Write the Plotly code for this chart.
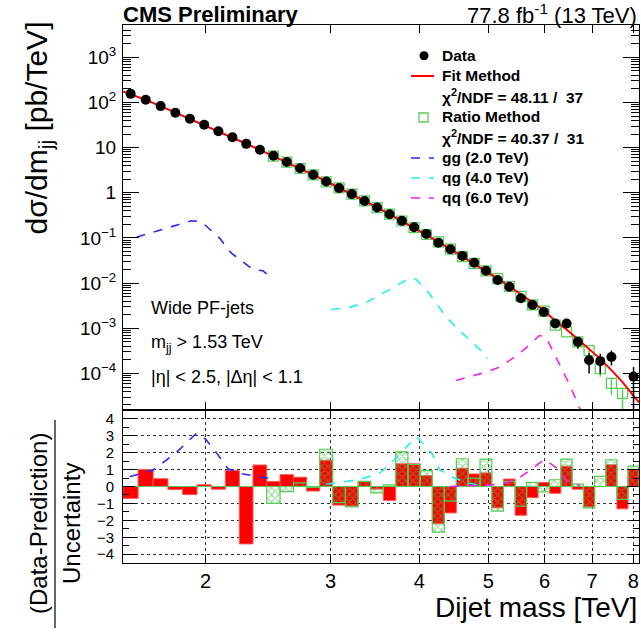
import math
import plotly.graph_objects as go

# ---------------- data ----------------
mass_edges = [1.530, 1.607, 1.687, 1.770, 1.856, 1.945, 2.037, 2.132, 2.231, 2.332,
              2.438, 2.546, 2.659, 2.775, 2.895, 3.019, 3.147, 3.279, 3.416, 3.558,
              3.704, 3.854, 4.010, 4.171, 4.337, 4.509, 4.686, 4.869, 5.058, 5.253,
              5.455, 5.663, 5.877, 6.099, 6.328, 6.564, 6.808, 7.060, 7.320, 7.589,
              7.866, 8.152]

data_xsec = [155, 115, 83, 59, 43.4, 32, 23, 17, 12.1, 9.0,
             6.6, 4.8, 3.5, 2.5, 1.78, 1.27, 0.935, 0.66, 0.47, 0.336,
             0.239, 0.173, 0.123, 0.0787, 0.056, 0.040, 0.0283, 0.0188, 0.0117, 0.0083,
             0.0046, 0.0033, 0.0023, 0.00127, 0.00127, 0.0005, 0.000195, 0.000187, 0.00023, None,
             8.5e-5]
data_err_up = [0] * 33 + [0.0001, 0.0001, 0.00014, 0.000085, 0.000087, 0.00009, 0, 0.000053]
data_err_dn = [0] * 33 + [0.0001, 0.0001, 0.00015, 0.000095, 0.000088, 0.00008, 0, 0.000075]

fit_xsec = [175, 153, 114, 83, 60, 43.5, 31.6, 23, 16.8, 12.2, 8.9,
            6.5, 4.75, 3.46, 2.5, 1.8, 1.29, 0.93, 0.665, 0.472, 0.335,
            0.237, 0.168, 0.118, 0.082, 0.0568, 0.0392, 0.027, 0.0185, 0.0126, 0.0085,
            0.0057, 0.0038, 0.0025, 0.00145, 0.00094, 0.00057, 0.00035, 0.00021, 0.000118, 6.4e-5,
            3.2e-5, 2.3e-5]

ratio_xsec = [None] * 10 + [6.5, 4.75, 3.45, 2.5, 1.75, 1.29, 0.93, 0.665, 0.47, 0.336,
                            0.237, 0.17, 0.119, 0.082, 0.0565, 0.0385, 0.0272, 0.0186, 0.0125, 0.0084,
                            0.0051, 0.0033, 0.0024, 0.00117, 0.00083, 0.0005, 0.00032, 0.000127, 6.0e-5, 3.6e-5,
                            None]
ratio_err_up = [0] * 36 + [0.00004, 0.00004, 0.00002, 0.00001, 0]
ratio_err_dn = [0] * 36 + [0.00006, 0.000042, 0.000026, 0.000034, 0]

gg_mass = [1.598, 1.723, 1.910, 1.972, 2.093, 2.174, 2.331, 2.408, 2.482]
gg_xsec = [0.104, 0.15, 0.24, 0.23, 0.099, 0.046, 0.020, 0.0187, 0.0126]
qg_mass = [3.005, 3.189, 3.383, 3.591, 3.872, 3.957, 4.131, 4.360, 4.601, 4.885, 4.991]
qg_xsec = [0.0026, 0.0029, 0.00385, 0.0064, 0.0127, 0.0121, 0.0059, 0.00178, 0.00077, 0.00032, 0.00021]
qq_mass = [4.504, 4.965, 5.182, 5.470, 5.711, 5.899, 6.028, 6.227, 6.501, 6.714, 6.846]
qq_xsec = [7e-5, 1.07e-4, 1.38e-4, 2.4e-4, 4.2e-4, 6.9e-4, 6.4e-4, 2.3e-4, 5.9e-5, 1.8e-5, 1.1e-5]

pull_fit = [-0.7, 1.0, 0.46, -0.18, -0.48, 0.1, -0.16, 0.95, -3.39, 1.27,
            0.3, 0.7, 0.55, -0.27, 1.55, -1.1, -1.15, 0.3, -0.15, -0.82,
            1.34, 1.34, 0.64, -2.2, -1.56, 1.08, 0.74, 0.8, -1.26, 0.44,
            -1.7, -0.66, 0.24, -0.4, 1.2, -0.16, -1.2, 0.0, 1.28, -1.32,
            1.0]
pull_ratio = [0] * 10 + [-1.0, -0.3, 0.22, -0.05, 2.2, -0.95, -1.2, 0.3, -0.38, 0.1,
                         2.04, 1.3, 0.94, -2.7, -0.86, 1.64, 0.5, 1.62, -1.46, 0.3,
                         -1.16, 0.24, -0.32, 0.4, 1.62, 0.14, -1.26, 0.6, 1.58, -0.76,
                         1.2]

gg_pull_mass = [1.563, 1.686, 1.818, 1.941, 2.000, 2.071, 2.150, 2.233, 2.357, 2.474]
gg_pull = [0.58, 0.97, 2.0, 3.14, 2.8, 2.0, 1.05, 0.77, 0.61, 0.46]
qg_pull_mass = [2.958, 3.139, 3.296, 3.517, 3.713, 3.962, 4.158, 4.272, 4.437, 4.658, 4.864, 5.024]
qg_pull = [0.13, 0.3, 0.42, 0.78, 1.7, 2.96, 2.0, 1.0, 0.58, 0.22, 0.08, 0.02]
qq_pull_mass = [4.413, 4.708, 5.078, 5.304, 5.538, 5.781, 6.004, 6.237, 6.442, 6.727]
qq_pull = [0.0, 0.03, 0.1, 0.22, 0.52, 1.1, 1.6, 1.1, 0.32, 0.06]

x_ticks = [2, 3, 4, 5, 6, 7, 8]
y_ticks_top = [1e-4, 1e-3, 1e-2, 1e-1, 1, 10, 100, 1000]
y_ticktext_top = ["10<sup>\u22124</sup>", "10<sup>\u22123</sup>", "10<sup>\u22122</sup>",
                  "10<sup>\u22121</sup>", "1", "10", "10<sup>2</sup>", "10<sup>3</sup>"]
y_ticks_bot = [-4, -3, -2, -1, 0, 1, 2, 3, 4]

# ---------------- helpers ----------------
centers = [(mass_edges[i] + mass_edges[i + 1]) / 2 for i in range(len(mass_edges) - 1)]
fit_mass = [mass_edges[0]] + centers + [mass_edges[-1]]


def bar_path(edges, vals):
    xs, ys = [], []
    for i, v in enumerate(vals):
        if v is None:
            continue
        xs += [edges[i], edges[i], edges[i + 1], edges[i + 1], edges[i], None]
        ys += [0, v, v, 0, 0, None]
    return xs, ys


PL, PR, PT, PB = 123, 639, 25, 563
W, H = 641, 633


def px(x):
    return (x - PL) / (PR - PL)


def py(y):
    return (PB - y) / (PB - PT)


FONT = "Liberation Sans, Arial, Helvetica, sans-serif"
SPLIT = py(410)

GREEN = "#55cc55"
BLUE = "#2a2af0"
CYAN = "#22eeee"
MAGENTA = "#ee22ee"

fig = go.Figure()

# ---------------- upper panel ----------------
fig.add_trace(go.Scatter(x=gg_mass, y=gg_xsec, mode="lines",
                         line=dict(color=BLUE, width=1.6, dash="dash"), xaxis="x", yaxis="y"))
fig.add_trace(go.Scatter(x=qg_mass, y=qg_xsec, mode="lines",
                         line=dict(color=CYAN, width=1.6, dash="dash"), xaxis="x", yaxis="y"))
fig.add_trace(go.Scatter(x=qq_mass, y=qq_xsec, mode="lines",
                         line=dict(color=MAGENTA, width=1.6, dash="dash"), xaxis="x", yaxis="y"))
fig.add_trace(go.Scatter(x=centers, y=ratio_xsec, mode="markers",
                         marker=dict(symbol="square-open", size=10, color=GREEN, line=dict(width=1.2)),
                         error_y=dict(type="data", array=ratio_err_up, arrayminus=ratio_err_dn,
                                      color=GREEN, thickness=1.5, width=0),
                         xaxis="x", yaxis="y"))
fig.add_trace(go.Scatter(x=fit_mass, y=fit_xsec, mode="lines",
                         line=dict(color="#ff0000", width=2), xaxis="x", yaxis="y"))
fig.add_trace(go.Scatter(x=centers, y=data_xsec, mode="markers",
                         marker=dict(symbol="circle", size=10, color="black"),
                         error_y=dict(type="data", array=data_err_up, arrayminus=data_err_dn,
                                      color="black", thickness=1.5, width=0),
                         xaxis="x", yaxis="y"))

# ---------------- lower panel ----------------
rx, ry = bar_path(mass_edges, pull_fit)
fig.add_trace(go.Scatter(x=rx, y=ry, mode="lines", fill="toself", fillcolor="#ff0000",
                         line=dict(color="#ff5555", width=1), xaxis="x2", yaxis="y2"))
gx, gy = bar_path(mass_edges, pull_ratio)
fig.add_trace(go.Scatter(x=gx, y=gy, mode="lines", fill="toself", fillcolor="rgba(0,0,0,0)",
                         fillpattern=dict(shape="x", fgcolor="#44bb44", bgcolor="rgba(0,0,0,0)",
                                          size=5, solidity=0.45),
                         line=dict(color=GREEN, width=1.2), xaxis="x2", yaxis="y2"))
fig.add_trace(go.Scatter(x=gg_pull_mass, y=gg_pull, mode="lines",
                         line=dict(color=BLUE, width=1.6, dash="dash"), xaxis="x2", yaxis="y2"))
fig.add_trace(go.Scatter(x=qg_pull_mass, y=qg_pull, mode="lines",
                         line=dict(color=CYAN, width=1.6, dash="dash"), xaxis="x2", yaxis="y2"))
fig.add_trace(go.Scatter(x=qq_pull_mass, y=qq_pull, mode="lines",
                         line=dict(color=MAGENTA, width=1.6, dash="dash"), xaxis="x2", yaxis="y2"))

xr = [math.log10(mass_edges[0]), math.log10(mass_edges[-1])]
minor_top = [k * 10 ** e for e in range(-5, 4) for k in range(2, 10)]
minor_bot = [v + 0.5 for v in range(-5, 5)]

axis_common = dict(showline=True, linecolor="black", linewidth=1, mirror="ticks",
                   ticks="inside", tickcolor="black", zeroline=False)

fig.update_layout(
    width=W, height=H,
    margin=dict(l=PL, r=W - PR, t=PT, b=H - PB),
    paper_bgcolor="white", plot_bgcolor="white",
    showlegend=False,
    font=dict(family=FONT, color="black"),
    xaxis=dict(domain=[0, 1], anchor="y", type="log", range=xr, matches="x2",
               tickvals=x_ticks, showticklabels=False, ticklen=8, showgrid=False, **axis_common),
    yaxis=dict(domain=[SPLIT, 1], anchor="x", type="log", range=[-4.81, 3.715],
               tickvals=y_ticks_top, ticktext=y_ticktext_top, ticklen=16, showgrid=False,
               ticklabelstandoff=2, tickfont=dict(family=FONT, size=19, color="black"),
               minor=dict(tickvals=minor_top, ticks="inside", ticklen=8, tickcolor="black"),
               **axis_common),
    xaxis2=dict(domain=[0, 1], anchor="y2", type="log", range=xr,
                tickvals=x_ticks, ticktext=[str(t) for t in x_ticks], ticklen=8,
                tickfont=dict(family=FONT, size=20, color="black"),
                showgrid=True, gridcolor="#333333", griddash="dot", gridwidth=1, **axis_common),
    yaxis2=dict(domain=[0, SPLIT], anchor="x2", range=[-4.52, 4.52],
                tickvals=y_ticks_bot, ticklen=12, ticklabelstandoff=5,
                tickfont=dict(family=FONT, size=15, color="black"),
                showgrid=True, gridcolor="#333333", griddash="dot", gridwidth=1,
                minor=dict(tickvals=minor_bot, ticks="inside", ticklen=6, tickcolor="black"),
                **axis_common),
)


def ann(text, x, y, size, xanchor="left", yanchor="middle", bold=False, angle=0):
    if bold:
        text = "<b>" + text + "</b>"
    fig.add_annotation(text=text, x=px(x), y=py(y), xref="paper", yref="paper",
                       xanchor=xanchor, yanchor=yanchor, showarrow=False, textangle=angle,
                       font=dict(family=FONT, size=size, color="black"))


# header
ann("CMS Preliminary", 121, 14, 22, bold=True)
ann("77.8 fb<sup>-1</sup> (13 TeV)", 639, 14, 22, xanchor="right")

# axis titles
ann("d\u03c3/dm<sub>jj</sub> [pb/TeV]", 38, 20, 30, xanchor="center", yanchor="top", angle=-90)
ann("(Data-Prediction)", 38, 524, 24, xanchor="center", yanchor="middle", angle=-90)
ann("Uncertainty", 71, 524, 24, xanchor="center", yanchor="middle", angle=-90)
fig.add_shape(type="line", xref="paper", yref="paper", x0=px(55), x1=px(55), y0=py(420), y1=py(628),
              line=dict(color="black", width=1.2))
ann("Dijet mass [TeV]", 639, 607, 28, xanchor="right")

# text labels
ann("Wide PF-jets", 149, 308, 18)
ann("m<sub>jj</sub> > 1.53 TeV", 149, 343, 18)
ann("|\u03b7| < 2.5, |\u0394\u03b7| < 1.1", 149, 377, 18)

# legend
LX = 440
legend_rows = [("Data", 55.7), ("Fit Method", 75.7), ("\u03c7<sup>2</sup>/NDF = 48.11 /  37", 96),
               ("Ratio Method", 116.7), ("\u03c7<sup>2</sup>/NDF = 40.37 /  31", 136.7),
               ("gg (2.0 TeV)", 157.5), ("qg (4.0 TeV)", 177.7), ("qq (6.0 TeV)", 197.7)]
for t, yy in legend_rows:
    ann(t, LX, yy, 15.5, bold=True)

fig.add_shape(type="circle", xref="paper", yref="paper", x0=px(419.5), x1=px(428.5),
              y0=py(60.2), y1=py(51.2), fillcolor="black", line=dict(color="black", width=0))
fig.add_shape(type="line", xref="paper", yref="paper", x0=px(411), x1=px(434), y0=py(76), y1=py(76),
              line=dict(color="#ff0000", width=2))
fig.add_shape(type="rect", xref="paper", yref="paper", x0=px(419), x1=px(428), y0=py(122), y1=py(113),
              line=dict(color=GREEN, width=1.3))
for yy, col in [(158, BLUE), (178, CYAN), (198, MAGENTA)]:
    fig.add_shape(type="line", xref="paper", yref="paper", x0=px(411), x1=px(434), y0=py(yy), y1=py(yy),
                  line=dict(color=col, width=1.6, dash="dash"))

fig.write_html("out.html")
